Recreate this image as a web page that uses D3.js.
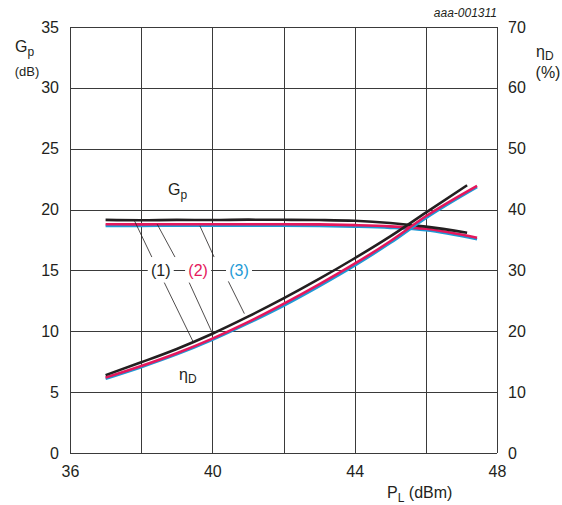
<!DOCTYPE html>
<html>
<head>
<meta charset="utf-8">
<script src="https://cdn.jsdelivr.net/npm/d3@7"></script>
<style>
  body { margin: 0; background: #fff; }
  svg text { font-family: "Liberation Sans", Arial, sans-serif; fill: #231f20; }
</style>
</head>
<body>
<svg id="chart" width="562" height="505"></svg>
<script>
// values
var plVals = [37, 38, 39, 40, 41, 42, 43, 44, 45, 46, 47.16];
var plVals23 = [37, 38, 39, 40, 41, 42, 43, 44, 45, 46, 47.44];
var gp1 = [19.15, 19.12, 19.15, 19.14, 19.17, 19.16, 19.14, 19.08, 18.9, 18.6, 18.1];
var gp2 = [18.8, 18.78, 18.8, 18.8, 18.8, 18.8, 18.78, 18.72, 18.62, 18.42, 17.68];
var gp3 = [18.66, 18.66, 18.68, 18.68, 18.68, 18.68, 18.66, 18.6, 18.5, 18.3, 17.56];
var eta1 = [12.8, 14.9, 17.1, 19.6, 22.4, 25.4, 28.6, 32.0, 35.6, 39.5, 44.0];
var eta2 = [12.4, 14.3, 16.4, 18.8, 21.5, 24.5, 27.7, 31.1, 34.8, 38.9, 43.9];
var eta3 = [12.2, 14.1, 16.2, 18.6, 21.3, 24.2, 27.4, 30.8, 34.5, 38.6, 43.7];
var xTicks = [36, 40, 44, 48];
var gpTicks = [0, 5, 10, 15, 20, 25, 30, 35];
var etaTicks = [0, 10, 20, 30, 40, 50, 60, 70];

var colors = { c1: '#231f20', c2: '#e5175c', c3: '#1e9ad6' };

var svg = d3.select('#chart');
var margin = { left: 70, right: 65, top: 27, bottom: 52 };
var W = 562, H = 505;

var x = d3.scaleLinear().domain([36, 48]).range([margin.left, W - margin.right]);
var y = d3.scaleLinear().domain([0, 35]).range([H - margin.bottom, margin.top]);
var yEta = d3.scaleLinear().domain([0, 70]).range([H - margin.bottom, margin.top]);

// grid
var grid = svg.append('g').attr('stroke', '#3a3a3a').attr('stroke-width', 1).attr('shape-rendering', 'crispEdges');
grid.selectAll('.vg').data(d3.range(36, 48.1, 2)).enter().append('line')
  .attr('x1', d => Math.round(x(d)) + 0.5).attr('x2', d => Math.round(x(d)) + 0.5)
  .attr('y1', y(0)).attr('y2', y(35));
grid.selectAll('.hg').data(gpTicks).enter().append('line')
  .attr('y1', d => Math.round(y(d)) + 0.5).attr('y2', d => Math.round(y(d)) + 0.5)
  .attr('x1', x(36)).attr('x2', x(48));

// axes (labels only, grid draws the lines)
var xAxis = svg.append('g').attr('transform', 'translate(0,' + y(0) + ')')
  .call(d3.axisBottom(x).tickValues(xTicks).tickSize(0).tickPadding(13));
var yAxis = svg.append('g').attr('transform', 'translate(' + x(36) + ',0)')
  .call(d3.axisLeft(y).tickValues(gpTicks).tickSize(0).tickPadding(11));
var yAxisR = svg.append('g').attr('transform', 'translate(' + x(48) + ',0)')
  .call(d3.axisRight(yEta).tickValues(etaTicks).tickSize(0).tickPadding(11));
[xAxis, yAxis, yAxisR].forEach(function (a) {
  a.select('.domain').remove();
  a.selectAll('text').attr('font-size', 16).attr('font-family', null).attr('fill', '#231f20');
});

// curves
var line = d3.line().x(d => x(d[0])).curve(d3.curveMonotoneX);
function drawCurve(xs, ys, scale, color) {
  var pts = xs.map((v, i) => [v, ys[i]]);
  svg.append('path')
    .attr('d', line.y(d => scale(d[1]))(pts))
    .attr('fill', 'none').attr('stroke', color).attr('stroke-width', 2.6);
}
drawCurve(plVals23, gp3, y, colors.c3);
drawCurve(plVals23, gp2, y, colors.c2);
drawCurve(plVals, gp1, y, colors.c1);
drawCurve(plVals23, eta3, yEta, colors.c3);
drawCurve(plVals23, eta2, yEta, colors.c2);
drawCurve(plVals, eta1, yEta, colors.c1);

// leader lines to the curves (data coords: [PL, Gp-scale])
var leaders = [
  [[37.8, 19.15], [38.3, 16.1]],
  [[38.45, 18.8], [38.95, 16.1]],
  [[39.65, 18.66], [40.05, 16.1]],
  [[38.65, 14.0], [39.45, 9.2]],
  [[39.35, 14.0], [40.0, 9.85]],
  [[40.45, 14.1], [40.9, 11.45]]
];
svg.append('g').selectAll('line').data(leaders).enter().append('line')
  .attr('x1', d => x(d[0][0])).attr('y1', d => y(d[0][1]))
  .attr('x2', d => x(d[1][0])).attr('y2', d => y(d[1][1]))
  .attr('stroke', '#231f20').attr('stroke-width', 0.8);

// legend labels on the 15 grid line
var legend = [
  { t: '(1)', pl: 38.55, c: colors.c1 },
  { t: '(2)', pl: 39.6, c: colors.c2 },
  { t: '(3)', pl: 40.75, c: colors.c3 }
];
var lg = svg.append('g');
lg.selectAll('rect').data(legend).enter().append('rect')
  .attr('x', d => x(d.pl) - 13).attr('y', y(15) - 10)
  .attr('width', 26).attr('height', 20).attr('fill', '#fff');
lg.selectAll('text').data(legend).enter().append('text')
  .attr('x', d => x(d.pl)).attr('y', y(15) + 6)
  .attr('text-anchor', 'middle').attr('font-size', 16)
  .style('fill', d => d.c).text(d => d.t);

// curve labels
var gpLab = svg.append('text').attr('x', 168).attr('y', 195).attr('font-size', 16);
gpLab.append('tspan').text('G');
gpLab.append('tspan').attr('font-size', 12).attr('dy', 4).text('p');
var etaLab = svg.append('text').attr('x', 179).attr('y', 380).attr('font-size', 16);
etaLab.append('tspan').text('η');
etaLab.append('tspan').attr('font-size', 12).attr('dy', 3).text('D');

// axis titles
var gpT = svg.append('text').attr('x', 15).attr('y', 52).attr('font-size', 16);
gpT.append('tspan').text('G');
gpT.append('tspan').attr('font-size', 12).attr('dy', 4).text('p');
svg.append('text').attr('x', 27).attr('y', 76).attr('text-anchor', 'middle').attr('font-size', 13).text('(dB)');

var etaT = svg.append('text').attr('x', 536).attr('y', 57).attr('font-size', 16);
etaT.append('tspan').text('η');
etaT.append('tspan').attr('font-size', 12).attr('dy', 3).text('D');
svg.append('text').attr('x', 548).attr('y', 78).attr('text-anchor', 'middle').attr('font-size', 16).text('(%)');

var plT = svg.append('text').attr('x', 387).attr('y', 498).attr('font-size', 16);
plT.append('tspan').text('P');
plT.append('tspan').attr('font-size', 12).attr('dy', 4).text('L');
plT.append('tspan').attr('dy', -4).text(' (dBm)');

svg.append('text').attr('x', 497).attr('y', 17).attr('text-anchor', 'end')
  .attr('font-size', 12).attr('font-style', 'italic').text('aaa-001311');
</script>
</body>
</html>
